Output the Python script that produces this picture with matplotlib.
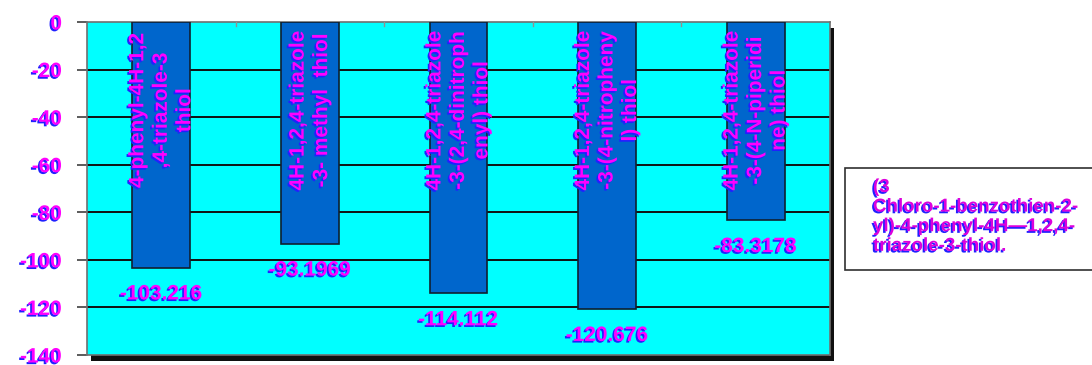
import matplotlib
matplotlib.use('Agg')
from matplotlib import pyplot as plt
from matplotlib.patches import Rectangle
import matplotlib.patheffects as pe

# values
compounds = ['4-phenyl-4H-1,2\n,4-triazole-3\nthiol',
             '4H-1,2,4-triazole\n-3- methyl  thiol',
             '4H-1,2,4-triazole\n-3-(2,4-dinitroph\nenyl) thiol',
             '4H-1,2,4-triazole\n-3-(4-nitropheny\nl) thiol',
             '4H-1,2,4-triazole\n-3-(4-N-piperidi\nne) thiol']
energies = [-103.216, -93.1969, -114.112, -120.676, -83.3178]
value_labels = ['-103.216', '-93.1969', '-114.112', '-120.676', '-83.3178']
yticks = [0, -20, -40, -60, -80, -100, -120, -140]
legend_text = '(3\nChloro-1-benzothien-2-\nyl)-4-phenyl-4H\u20141,2,4-\ntriazole-3-thiol.'

plt.rcParams['font.family'] = ['Liberation Sans', 'DejaVu Sans']

magenta = '#ff00ff'
shadow = [pe.withSimplePatchShadow(offset=(-1.2, -1.2), shadow_rgbFace='#2020ff', alpha=1.0)]

fig = plt.figure(figsize=(10.92, 3.65), dpi=100)
ax = fig.add_axes([0.0797, 0.0274, 0.6803, 0.9123])
ax.set_zorder(2)

# drop shadow behind the plot area
fig.patches.append(Rectangle((0.0797 + 0.004, 0.0274 - 0.016), 0.6803, 0.9123,
                             transform=fig.transFigure, facecolor='#101010',
                             edgecolor='none', zorder=1))

ax.set_facecolor('#00ffff')
x = range(len(energies))
ax.bar(x, energies, width=0.39, color='#0066cc', edgecolor='#102030',
       linewidth=1.2, zorder=3)

ax.set_xlim(-0.5, len(energies) - 0.5)
ax.set_ylim(-140, 0)
ax.set_yticks(yticks)
ax.set_yticklabels([str(v) for v in yticks])
for v in yticks[1:-1]:
    ax.axhline(v, color='#101010', linewidth=1.4, zorder=1)

ax.tick_params(axis='y', length=7, width=1.2, pad=11, color='#404040')
for lab in ax.get_yticklabels():
    lab.set_fontsize(15)
    lab.set_fontweight('bold')
    lab.set_color(magenta)
    lab.set_path_effects(shadow)

ax.set_xticks([])
for i in range(len(energies) - 1):
    ax.plot([i + 0.5, i + 0.5], [0, -1.6], color='#909090', linewidth=1, zorder=4)

for s in ax.spines.values():
    s.set_color('#707070')
    s.set_linewidth(1.2)

for i, (name, val, txt) in enumerate(zip(compounds, energies, value_labels)):
    ax.text(i, -37, name, rotation=90, ha='center', va='center',
            multialignment='center', linespacing=1.3, fontsize=15,
            fontweight='bold', color=magenta, path_effects=shadow, zorder=5)
    ax.annotate(txt, (i, val), xytext=(0, -19), textcoords='offset points',
                ha='center', va='center', fontsize=15, fontweight='bold',
                color=magenta, path_effects=shadow, zorder=5)

# legend box, running off the right edge like the original
fig.patches.append(Rectangle((845 / 1092, 1 - 270 / 365), 0.3, 102 / 365,
                             transform=fig.transFigure, facecolor='white',
                             edgecolor='#303030', linewidth=1.2, zorder=1))
fig.text(873 / 1092, 1 - 179 / 365, legend_text, ha='left', va='top',
         fontsize=13.5, fontweight='bold', color='#dd00dd',
         linespacing=1.2, path_effects=shadow)

plt.savefig('out.png', dpi=100)
